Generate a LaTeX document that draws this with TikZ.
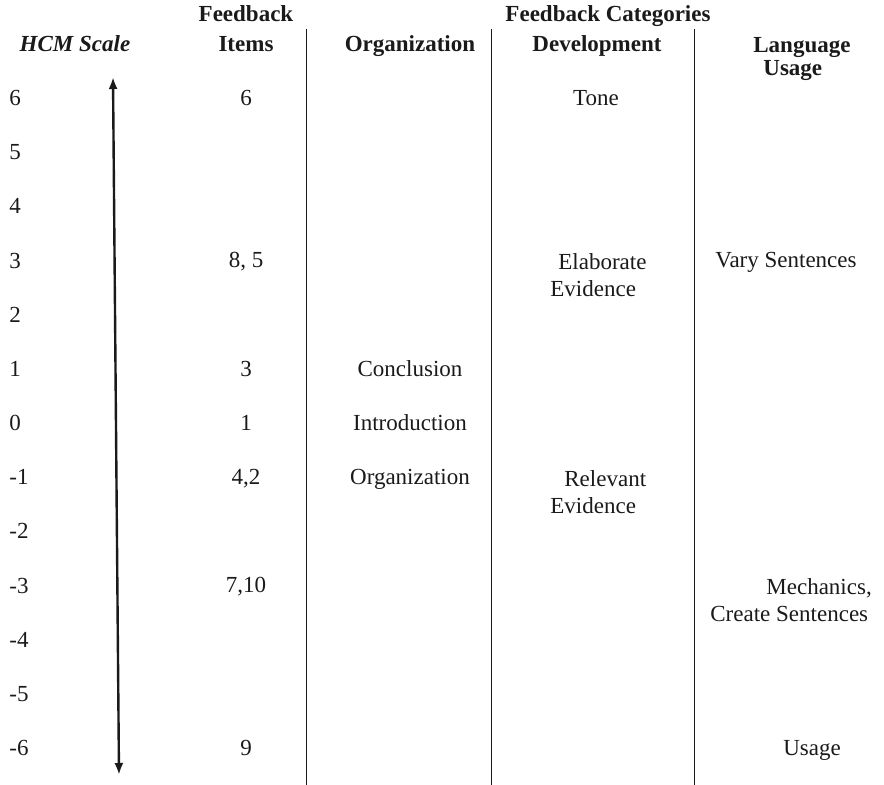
\documentclass[tikz,border=0pt]{standalone}
\usepackage{fontspec}
\setmainfont{Liberation Serif}
\usetikzlibrary{arrows.meta}
\definecolor{HCMInk}{HTML}{1A1A1A}

\tikzset{
  hdr/.style={font=\fontsize{11.5}{11.5}\selectfont\bfseries,inner sep=0pt,anchor=base,text=HCMInk},
  cell/.style={font=\fontsize{11.5}{13.5}\selectfont,inner sep=0pt,anchor=base,text=HCMInk},
  colrule/.style={HCMInk,line width=.5pt},
  scalearrow/.style={HCMInk,line width=1.2pt,{Latex[length=6pt,width=4.5pt]}-{Latex[length=6pt,width=4.5pt]}}
}

\begin{document}
\begin{tikzpicture}[x=.5pt,y=-.5pt]
\path[use as bounding box] (0,0) rectangle (884,785);
% header
\node[hdr] (hfb) at (246,22) {Feedback};
\node[hdr] (hitems) at (246,52) {Items};
\node[hdr] (hcat) at (608,22) {Feedback Categories};
\node[hdr] (hhcm) at (75,52) {\itshape HCM Scale};
\node[hdr] (horg) at (410,52) {Organization};
\node[hdr] (hdev) at (597,52) {Development};
\node[hdr,anchor=north west,align=left] (hlang) at (753,37) {Language\\\hspace*{5pt}Usage};
% column rules
\coordinate (r1t) at (306,29); \coordinate (r1b) at (306,785);
\coordinate (r2t) at (491,29); \coordinate (r2b) at (491,785);
\coordinate (r3t) at (694,29); \coordinate (r3b) at (694,785);
\draw[colrule] (r1t) -- (r1b);
\draw[colrule] (r2t) -- (r2b);
\draw[colrule] (r3t) -- (r3b);
% scale values
\foreach \v [count=\i from 0] in {6,5,...,-6}
  \node[cell,anchor=base west] (s\i) at (9,105.5+\i*54.17) {\v};
% scale arrow
\coordinate (atop) at (113,77);
\coordinate (abot) at (119,775);
\draw[scalearrow] (atop) -- (abot);
% feedback items
\node[cell] (i6) at (246,105.5) {6};
\node[cell] (i3) at (246,268) {8, 5};
\node[cell] (i1) at (246,376.4) {3};
\node[cell] (i0) at (246,430.5) {1};
\node[cell] (im1) at (246,484.7) {4,2};
\node[cell] (im3) at (246,593) {7,10};
\node[cell] (im6) at (246,755.5) {9};
% organization
\node[cell] (o1) at (410,376.4) {Conclusion};
\node[cell] (o0) at (410,430.5) {Introduction};
\node[cell] (om1) at (410,484.7) {Organization};
% development
\node[cell] (d6) at (596,105.5) {Tone};
\node[cell,anchor=north west,align=left] (d3) at (550,253) {\hspace*{4pt}Elaborate\\Evidence};
\node[cell,anchor=north west,align=left] (dm1) at (550,470) {\hspace*{7pt}Relevant\\Evidence};
% language usage
\node[cell] (l3) at (786,268) {Vary Sentences};
\node[cell,anchor=north west,align=left] (lm3) at (710,578) {\hspace*{28pt}Mechanics,\\Create Sentences};
\node[cell] (lm6) at (812,755.5) {Usage};
\end{tikzpicture}
\end{document}
